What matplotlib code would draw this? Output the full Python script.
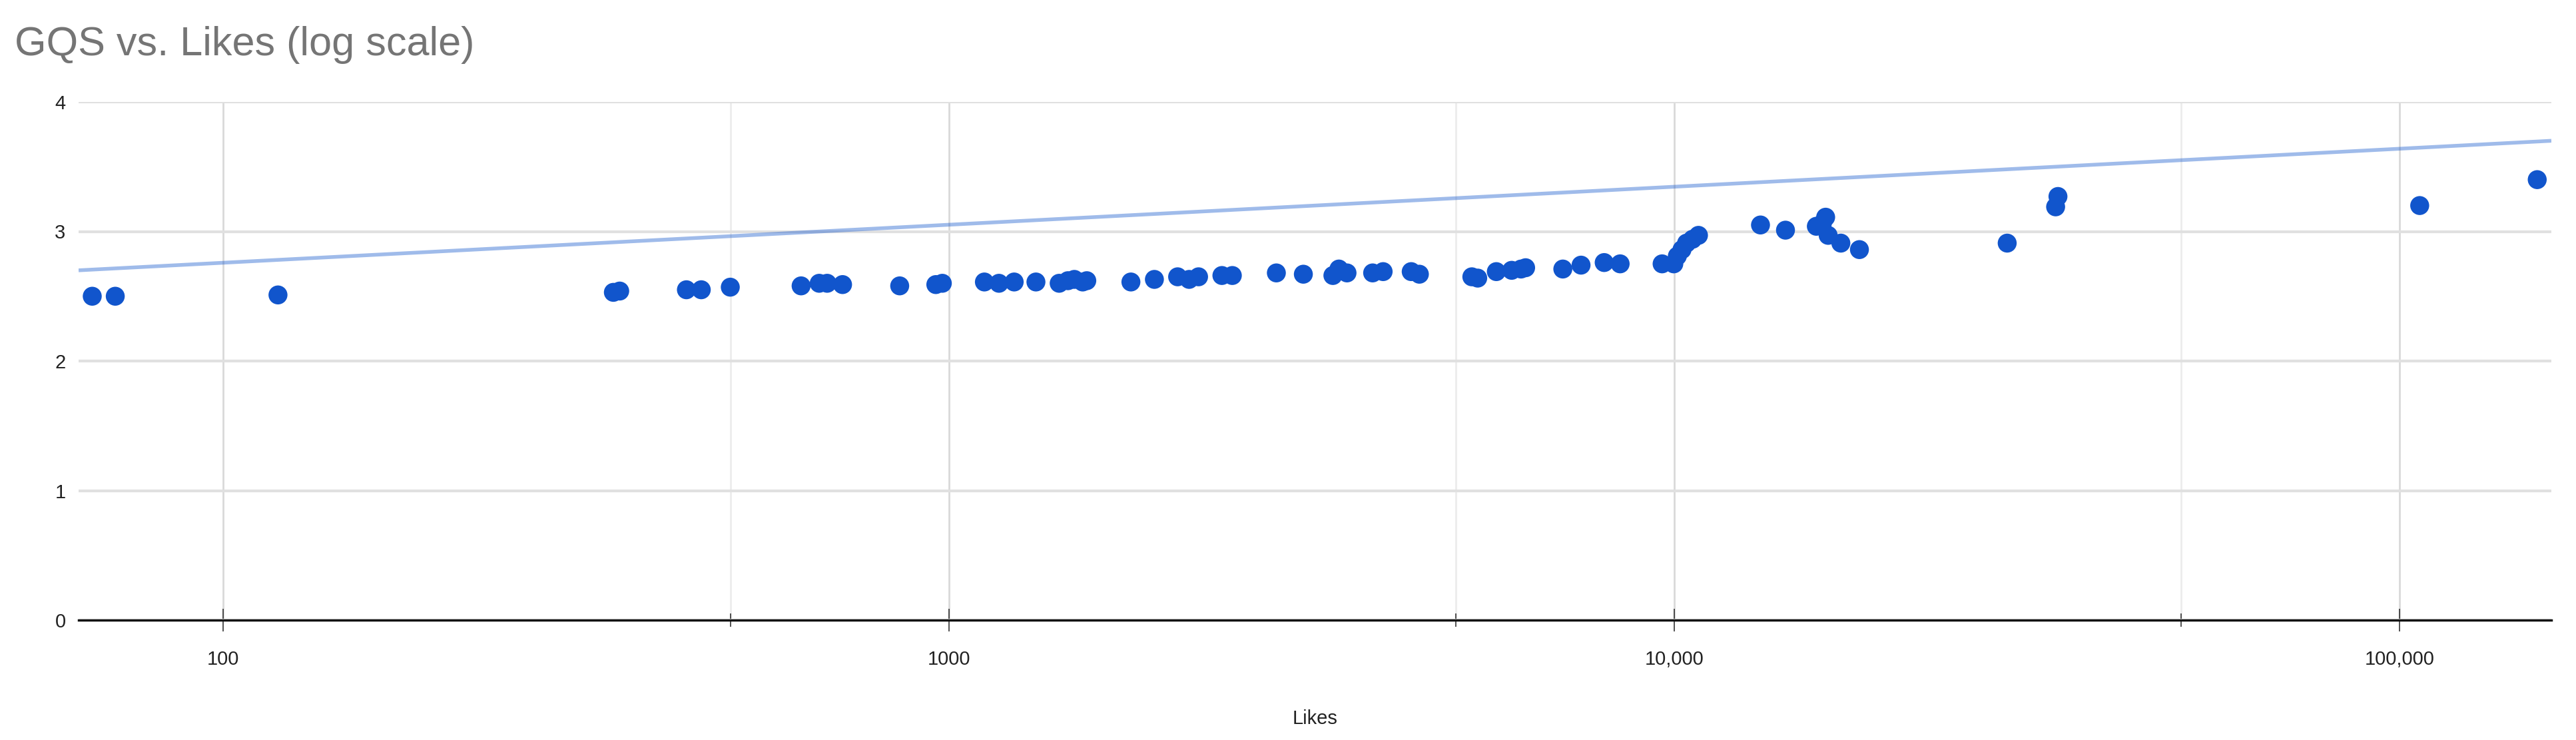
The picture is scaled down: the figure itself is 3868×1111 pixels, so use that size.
import matplotlib.pyplot as plt
from matplotlib.ticker import FixedLocator, FixedFormatter, NullFormatter

plt.rcParams['font.family'] = ['Liberation Sans', 'DejaVu Sans']

# data
likes = [66, 71, 119, 345, 352, 435, 456, 500, 626, 663, 680, 714, 856, 960, 980,
         1120, 1173, 1231, 1319, 1420, 1460, 1490, 1530, 1550, 1783, 1921, 2068, 2145,
         2210, 2380, 2460, 2829, 3082, 3385, 3450, 3540, 3840, 3970, 4340, 4454, 5261,
         5360, 5686, 5970, 6150, 6240, 7022, 7440, 8007, 8423, 9623, 9987, 10100, 10250,
         10400, 10600, 10800, 13150, 14235, 15700, 16000, 16170, 16300, 16970, 18000,
         28770, 33550, 33800, 106540, 154700]
gqs = [2.50, 2.50, 2.51, 2.53, 2.54, 2.55, 2.55, 2.57, 2.58, 2.60, 2.60, 2.59, 2.58, 2.59, 2.60,
       2.61, 2.60, 2.61, 2.61, 2.60, 2.62, 2.63, 2.61, 2.62, 2.61, 2.63, 2.65, 2.63,
       2.65, 2.66, 2.66, 2.68, 2.67, 2.66, 2.71, 2.68, 2.68, 2.69, 2.69, 2.67, 2.65,
       2.64, 2.69, 2.70, 2.71, 2.72, 2.71, 2.74, 2.76, 2.75, 2.75, 2.75, 2.81, 2.86,
       2.91, 2.94, 2.97, 3.05, 3.01, 3.04, 3.06, 3.11, 2.97, 2.91, 2.86,
       2.91, 3.19, 3.27, 3.20, 3.40]

trend_x = [63.2, 161800]
trend_y = [2.70, 3.70]

major_ticks = [100, 1000, 10000, 100000]
major_labels = ["100", "1000", "10,000", "100,000"]
minor_ticks = [500, 5000, 50000]
y_ticks = [0, 1, 2, 3, 4]

fig = plt.figure(figsize=(38.68, 11.11), dpi=100)
ax = fig.add_axes([118 / 3868, 1 - 931 / 1111, (3831 - 118) / 3868, (931 - 153) / 1111])

ax.set_xscale('log')
ax.set_xlim(63.2, 161800)
ax.set_ylim(0, 4)

ax.xaxis.set_major_locator(FixedLocator(major_ticks))
ax.xaxis.set_major_formatter(FixedFormatter(major_labels))
ax.xaxis.set_minor_locator(FixedLocator(minor_ticks))
ax.xaxis.set_minor_formatter(NullFormatter())
ax.set_yticks(y_ticks)
ax.set_yticklabels([str(t) for t in y_ticks])

ax.grid(True, which='major', axis='y', color='#e0e0e0', linewidth=3.0)
ax.grid(True, which='major', axis='x', color='#d9d9d9', linewidth=2.0)
ax.grid(True, which='minor', axis='x', color='#ececec', linewidth=2.0)
ax.set_axisbelow(True)

ax.plot(trend_x, trend_y, color='#1155cc', alpha=0.4, linewidth=4.0, solid_capstyle='butt', zorder=2)
ax.scatter(likes, gqs, s=420, color='#1155cc', edgecolors='none', zorder=3)

for side in ['top', 'right', 'left']:
    ax.spines[side].set_visible(False)
ax.spines['bottom'].set_color('#111111')
ax.spines['bottom'].set_linewidth(2.5)
ax.spines['bottom'].set_zorder(4)

ax.tick_params(axis='y', length=0, pad=14, labelsize=21, labelcolor='#222222')
ax.tick_params(axis='x', which='major', direction='inout', length=25, width=1.1,
               color='#222222', pad=20, labelsize=21, labelcolor='#222222')
ax.tick_params(axis='x', which='minor', direction='inout', length=14, width=1.1, color='#222222')

ax.set_xlabel('Likes', fontsize=21, color='#222222', labelpad=44)
fig.text(22 / 3868, 1 - 83 / 1111, 'GQS vs. Likes (log scale)', fontsize=44,
         color='#757575', ha='left', va='baseline')

fig.savefig('out.png', dpi=100, facecolor='white')
